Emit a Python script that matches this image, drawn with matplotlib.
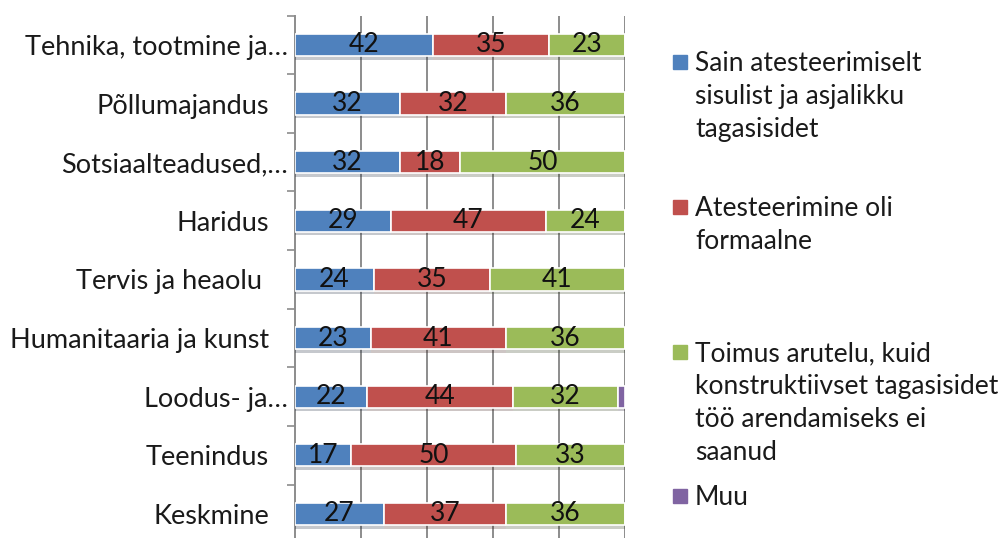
import numpy as np
import matplotlib.pyplot as plt
import matplotlib.patheffects as pe
import matplotlib.transforms as mtrans
from matplotlib.patches import Rectangle

plt.rcParams['font.family'] = ['Lato', 'DejaVu Sans']

categories = ['Tehnika, tootmine ja…', 'Põllumajandus', 'Sotsiaalteadused,…',
              'Haridus', 'Tervis ja heaolu ', 'Humanitaaria ja kunst',
              'Loodus- ja…', 'Teenindus', 'Keskmine']
sisuline = [42, 32, 32, 29, 24, 23, 22, 17, 27]
formaalne = [35, 32, 18, 47, 35, 41, 44, 50, 37]
arutelu = [23, 36, 50, 24, 41, 36, 32, 33, 36]
muu = [0, 0, 0, 0, 0, 0, 2, 0, 0]

series_names = ['Sain atesteerimiselt\nsisulist ja asjalikku\ntagasisidet',
                'Atesteerimine oli\nformaalne',
                'Toimus arutelu, kuid\nkonstruktiivset tagasisidet\ntöö arendamiseks ei\nsaanud',
                'Muu']
colors = ['#4F81BD', '#C0504D', '#9BBB59', '#8064A2']

fig = plt.figure(figsize=(10.03, 5.38), dpi=100)
ax = fig.add_axes([0.294, 0.0, 0.329, 0.971])

y = np.arange(len(categories))
left = np.zeros(len(categories))
shadow = [pe.SimplePatchShadow(offset=(0, -2.5), alpha=0.25), pe.Normal()]
for vals, col in zip([sisuline, formaalne, arutelu, muu], colors):
    vals = np.array(vals, dtype=float)
    bars = ax.barh(y, vals, left=left, height=0.38, color=col,
                   edgecolor='white', linewidth=1.2, zorder=3)
    for b in bars:
        b.set_path_effects(shadow)
    for yi, l, v in zip(y, left, vals):
        if v >= 5:
            ax.text(l + v / 2, yi, f'{v:.0f}', ha='center', va='center',
                    fontsize=19, color='#111111', zorder=4)
    left += vals

ax.set_xlim(0, 100)
ax.set_ylim(8.41, -0.5)
ax.set_xticks([20, 40, 60, 80, 100])
ax.set_xticklabels([])
ax.tick_params(axis='x', length=0)
ax.grid(axis='x', color='#8c8c8c', linewidth=1.4, zorder=0)

ax.set_yticks(y)
ax.set_yticklabels(categories, fontsize=19.5, color='#1a1a1a')
ax.tick_params(axis='y', which='major', length=0, pad=5)
ax.set_yticks(np.arange(-0.5, 8.5, 1), minor=True)
ax.tick_params(axis='y', which='minor', length=6, width=1.2, color='#8c8c8c')

# truncated labels sit closer to the axis than the full ones
for lbl in ax.get_yticklabels():
    if not lbl.get_text().endswith('…'):
        lbl.set_transform(lbl.get_transform() +
                          mtrans.ScaledTranslation(-0.19, 0, fig.dpi_scale_trans))

for s in ['top', 'right', 'bottom']:
    ax.spines[s].set_visible(False)
ax.spines['left'].set_color('#8c8c8c')
ax.spines['left'].set_linewidth(1.4)

# legend, drawn by hand to follow the uneven spacing of the original
leg_y = [62, 207, 352, 496]
for name, col, yy in zip(series_names, colors, leg_y):
    yf = 1 - yy / 538
    fig.add_artist(Rectangle((673 / 1003, yf - 7 / 538), 14 / 1003, 14 / 538,
                             transform=fig.transFigure, color=col))
    fig.text(695 / 1003, yf + 11 / 538, name, ha='left', va='top',
             fontsize=19, linespacing=1.4, color='#1a1a1a')

fig.savefig('out.png', dpi=100)
